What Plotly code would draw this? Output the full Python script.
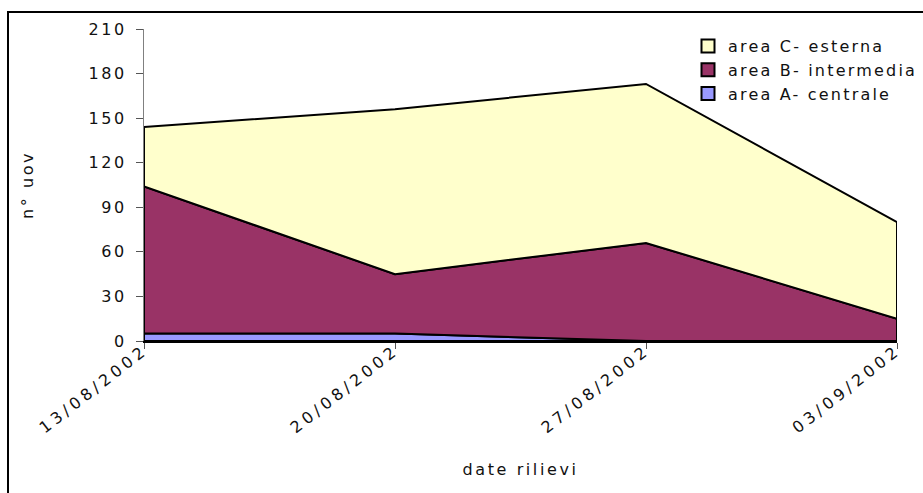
import plotly.graph_objects as go

# Survey dates and egg counts per area
dates = ["13/08/2002", "20/08/2002", "27/08/2002", "03/09/2002"]
area_a = [5, 5, 0, 0]        # area A- centrale
area_b = [99, 40, 66, 15]    # area B- intermedia
area_c = [40, 111, 107, 65]  # area C- esterna

series = [
    ("area A- centrale", area_a, "#9999FF"),
    ("area B- intermedia", area_b, "#993366"),
    ("area C- esterna", area_c, "#FFFFCC"),
]

FONT = "DejaVu Sans"
FS = 16
xs = list(range(len(dates)))

fig = go.Figure()
base = [0] * len(dates)
for name, vals, color in series:
    top = [b + v for b, v in zip(base, vals)]
    # closed polygon: top edge left->right, bottom edge right->left
    px = xs + xs[::-1] + [xs[0]]
    py = top + base[::-1] + [top[0]]
    fig.add_trace(go.Scatter(
        x=px, y=py, mode="lines", fill="toself", fillcolor=color,
        line=dict(color="black", width=2), name=name, hoverinfo="skip",
        showlegend=False,
    ))
    # legend entry: filled square swatch with black outline
    fig.add_trace(go.Scatter(
        x=[None], y=[None], mode="markers", name=name,
        marker=dict(symbol="square", size=13, color=color,
                    line=dict(color="black", width=2)),
    ))
    base = top

W, H = 923, 493
ml, mr, mt, mb = 144, 26, 29, 152
pw, ph = W - ml - mr, H - mt - mb

fig.update_layout(
    width=W, height=H,
    margin=dict(l=ml, r=mr, t=mt, b=mb),
    paper_bgcolor="white", plot_bgcolor="white",
    font=dict(family=FONT, size=FS, color="#111"),
    showlegend=True,
    legend=dict(
        x=(688 - ml) / pw, y=(H - mb - 29) / ph, xanchor="left", yanchor="top",
        traceorder="reversed", bgcolor="rgba(0,0,0,0)",
        font=dict(family=FONT, size=FS), itemwidth=30, tracegroupgap=0,
    ),
    xaxis=dict(
        range=[0, len(dates) - 1], tickmode="array", tickvals=xs, ticktext=dates,
        tickangle=-38, ticks="outside", ticklen=6, tickcolor="#555",
        ticklabelstandoff=-14,
        showline=True, linecolor="black", linewidth=2, showgrid=False,
        zeroline=False, tickfont=dict(family=FONT, size=FS),
        title=dict(text="date rilievi", font=dict(family=FONT, size=FS), standoff=52),
    ),
    yaxis=dict(
        range=[0, 210], tickvals=list(range(0, 211, 30)),
        ticks="outside", ticklen=7, tickcolor="#555", ticklabelstandoff=6,
        showline=True, linecolor="#808080", linewidth=1, showgrid=False,
        zeroline=False, tickfont=dict(family=FONT, size=FS),
        title=dict(text="n° uov", font=dict(family=FONT, size=FS), standoff=58),
    ),
)

# chart frame
fig.add_shape(
    type="rect", xref="paper", yref="paper",
    x0=(8 - ml) / pw, x1=(W + 20 - ml) / pw,
    y0=(H - mb - (H + 20)) / ph, y1=(H - mb - 12) / ph,
    line=dict(color="black", width=2), fillcolor="rgba(0,0,0,0)", layer="below",
)

# widen the tracking of all chart text; let the legend text run unclipped
spacing_js = """
var gd = document.getElementById('{plot_id}');
function track() {
  gd.querySelectorAll('.ytick text, .xtitle, .ytitle')
    .forEach(function (t) { t.style.letterSpacing = '2.6px'; });
  gd.querySelectorAll('.legendtext')
    .forEach(function (t) { t.style.letterSpacing = '2.2px'; });
  gd.querySelectorAll('.xtick text')
    .forEach(function (t) { t.style.letterSpacing = '4px'; });
  gd.querySelectorAll('.legend .scrollbox, .legend')
    .forEach(function (e) { e.removeAttribute('clip-path'); });
}
track();
gd.on('plotly_afterplot', track);
"""

fig.write_html("out.html", post_script=spacing_js)
